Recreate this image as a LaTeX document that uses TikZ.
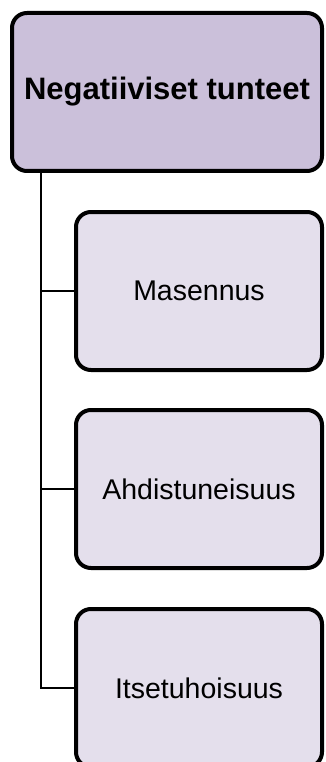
\documentclass[tikz,border=0pt]{standalone}
\usepackage{fontspec}
\setmainfont{Liberation Sans}
\usepackage{xcolor}
\usetikzlibrary{positioning,calc}

\definecolor{rootfill}{HTML}{CBC0DA}
\definecolor{childfill}{HTML}{E4DFEC}

\begin{document}
\begin{tikzpicture}[x=1pt,y=1pt,
    rootbox/.style={draw=black, line width=4pt, rounded corners=15pt, fill=rootfill,
        minimum width=310pt, minimum height=158pt, inner sep=0pt,
        font=\fontsize{31}{36}\selectfont\bfseries},
    childbox/.style={draw=black, line width=4pt, rounded corners=15pt, fill=childfill,
        minimum width=246pt, minimum height=158pt, inner sep=0pt,
        font=\fontsize{28.5}{34}\selectfont},
    link/.style={draw=black, line width=1.5pt}]
    \useasboundingbox (0,0) rectangle (325,-762);

    % Root
    \node[rootbox] (root) at (167,-92) {Negatiiviset tunteet};

    % Children
    \node[childbox] (masennus) at (199,-291) {Masennus};
    \node[childbox] (ahdistus) at (199,-489) {Ahdistuneisuus};
    \node[childbox] (itsetuho) at (199,-688) {Itsetuhoisuus};

    % Connectors
    \coordinate (trunk) at ([xshift=31pt]root.south west);
    \draw[link] (trunk) |- (masennus.west);
    \draw[link] (trunk) |- (ahdistus.west);
    \draw[link] (trunk) |- (itsetuho.west);
\end{tikzpicture}
\end{document}
